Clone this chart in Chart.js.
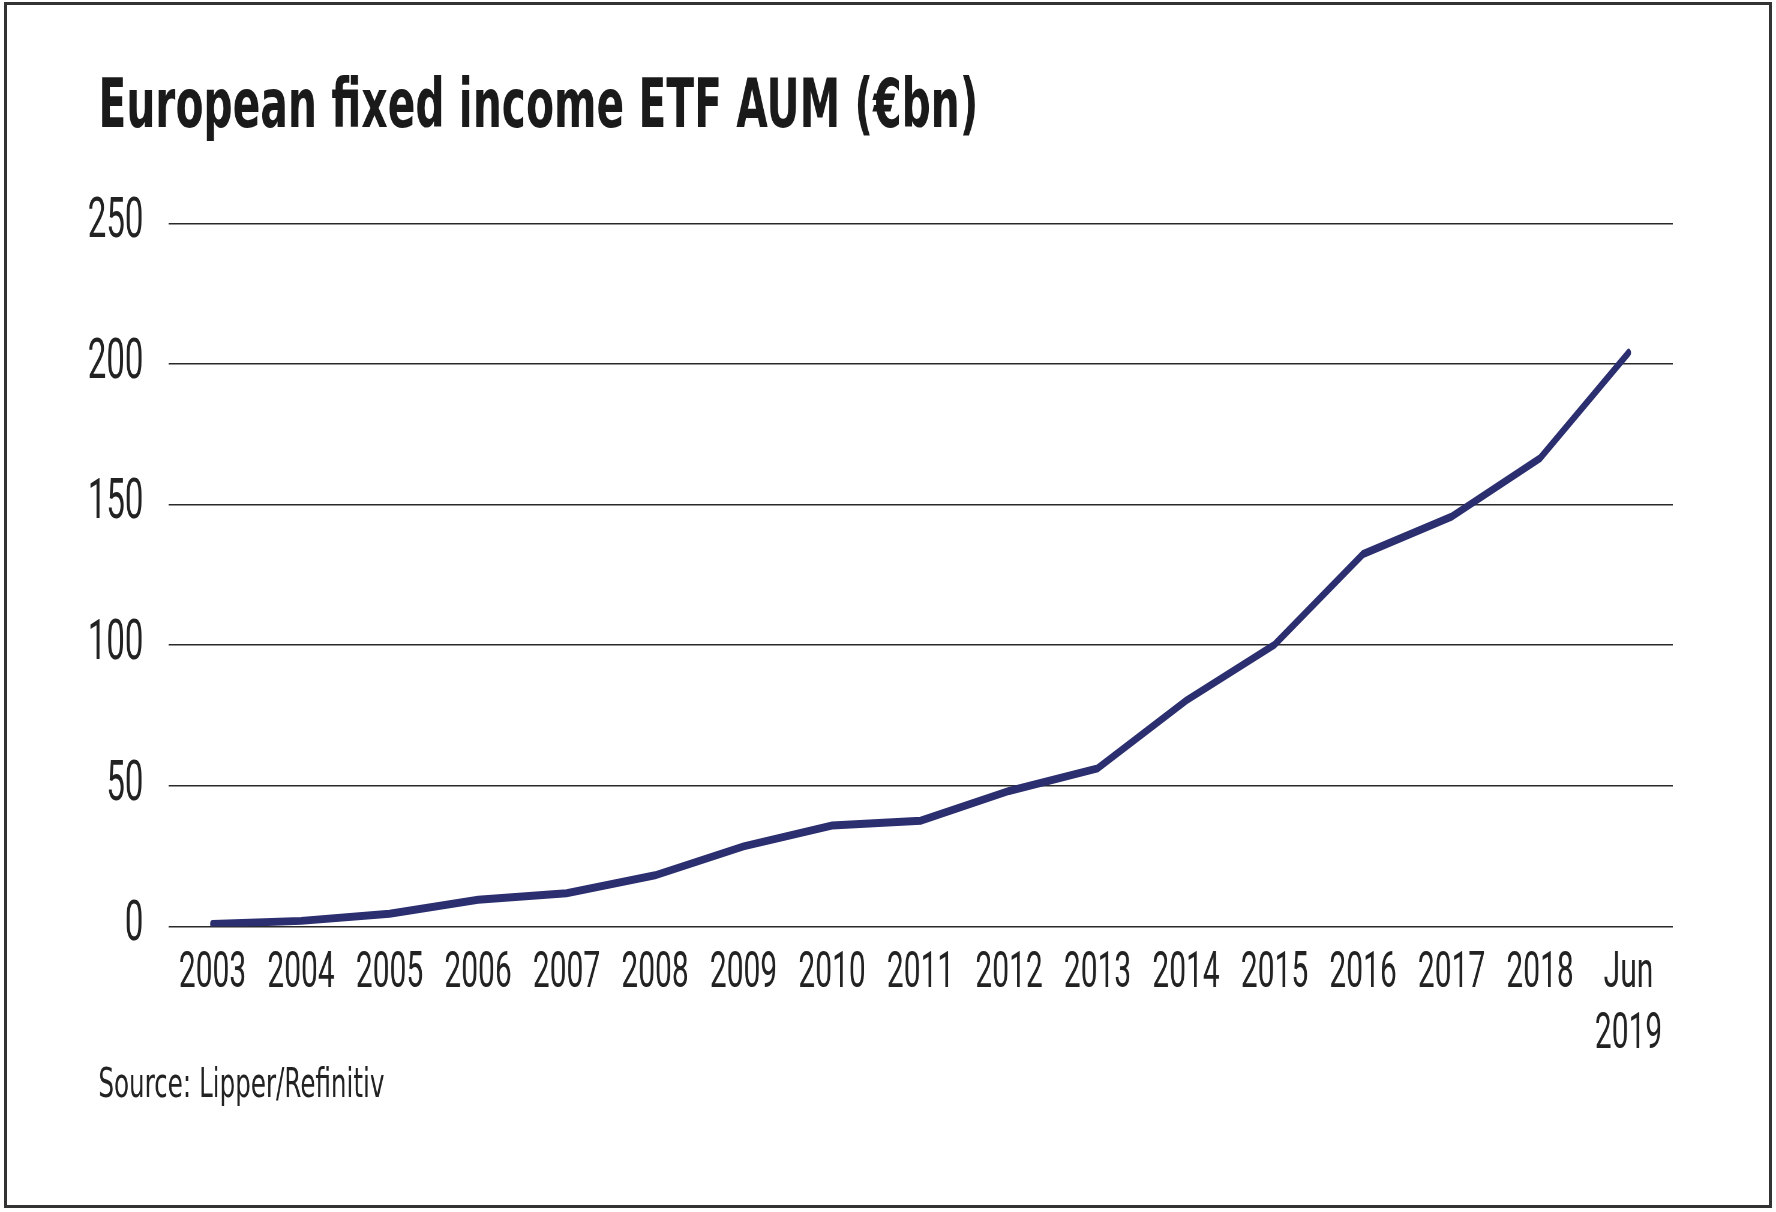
<!DOCTYPE html>
<html>
<head>
<meta charset="utf-8">
<script src="https://cdn.jsdelivr.net/npm/chart.js@4/dist/chart.umd.min.js"></script>
<style>
  html, body { margin: 0; padding: 0; background: #ffffff; }
  body { width: 1776px; height: 1212px; position: relative; overflow: hidden; }
  #frame { position: absolute; left: 4px; top: 2px; width: 1768px; height: 1206px;
           box-sizing: border-box; border: 3px solid #333333; pointer-events: none; }
  #chart { position: absolute; left: 0; top: 0; }
</style>
</head>
<body>
<canvas id="chart"></canvas>
<div id="frame"></div>
<script>
// ---- data ----
const titleText = 'European fixed income ETF AUM (€bn)';
const sourceText = 'Source: Lipper/Refinitiv';
const categories = ['2003','2004','2005','2006','2007','2008','2009','2010','2011',
                    '2012','2013','2014','2015','2016','2017','2018',['Jun','2019']];
const aumValues = [0.9, 2.0, 4.5, 9.5, 11.8, 18.2, 28.5, 35.9, 37.6,
                   48.2, 56.2, 80.3, 100.2, 132.4, 145.7, 166.5, 204];
const yTickMin = 0, yTickMax = 250, yTickStep = 50;

// ---- condensed rendering: canvas backing is wider than its display width ----
const K = 0.6;
const canvas = document.getElementById('chart');
canvas.width = Math.round(1776 / K);
canvas.height = 1212;
canvas.style.width = '1776px';
canvas.style.height = '1212px';

const padLeft = 164;
const chartLeft = 280.5;
const padRight = canvas.width - 2788;

// let the y tick labels extend left of the axis box without being clipped
const labelRoom = {
  id: 'labelRoom',
  afterLayout(chart) {
    const y = chart.scales.y;
    if (y) { y.left = Math.min(y.left, 40); }
  }
};

new Chart(canvas, {
  type: 'line',
  data: {
    labels: categories,
    datasets: [{
      label: 'AUM',
      data: aumValues,
      borderColor: '#2b2e6f',
      backgroundColor: '#2b2e6f',
      borderWidth: 8,
      borderCapStyle: 'round',
      borderJoinStyle: 'miter',
      pointRadius: 0,
      tension: 0,
      fill: false
    }]
  },
  plugins: [labelRoom],
  options: {
    responsive: false,
    devicePixelRatio: 1,
    animation: false,
    layout: { padding: { left: padLeft, right: padRight, top: 0, bottom: 101.4 } },
    plugins: {
      legend: { display: false },
      tooltip: { enabled: false },
      title: {
        display: true,
        text: titleText,
        align: 'start',
        color: '#1a1a1a',
        font: { family: "'DejaVu Sans', sans-serif", weight: 'bold', size: 68, lineHeight: 1.2 },
        padding: { top: 69, bottom: 72.7 }
      },
      subtitle: {
        display: true,
        position: 'bottom',
        text: sourceText,
        align: 'start',
        color: '#222222',
        font: { family: "'DejaVu Sans', sans-serif", weight: 'normal', size: 41, lineHeight: 1.2 },
        padding: { top: 0, bottom: 0 }
      }
    },
    scales: {
      x: {
        offset: true,
        grid: { display: false, drawTicks: false },
        border: { display: false },
        ticks: {
          color: '#222222',
          font: { family: 'Roboto, sans-serif', size: 50, lineHeight: 1.21 },
          padding: 18,
          autoSkip: false,
          maxRotation: 0,
          minRotation: 0
        },
        afterFit: (s) => { s.height = 134.9; }
      },
      y: {
        min: yTickMin,
        max: yTickMax,
        grid: { color: '#2a2a2a', lineWidth: 1.5, drawTicks: false },
        border: { display: false },
        ticks: {
          stepSize: yTickStep,
          color: '#222222',
          font: { family: 'Roboto, sans-serif', size: 55 },
          padding: 41.5
        },
        afterFit: (s) => { s.width = chartLeft - padLeft; }
      }
    }
  }
});
</script>
</body>
</html>
